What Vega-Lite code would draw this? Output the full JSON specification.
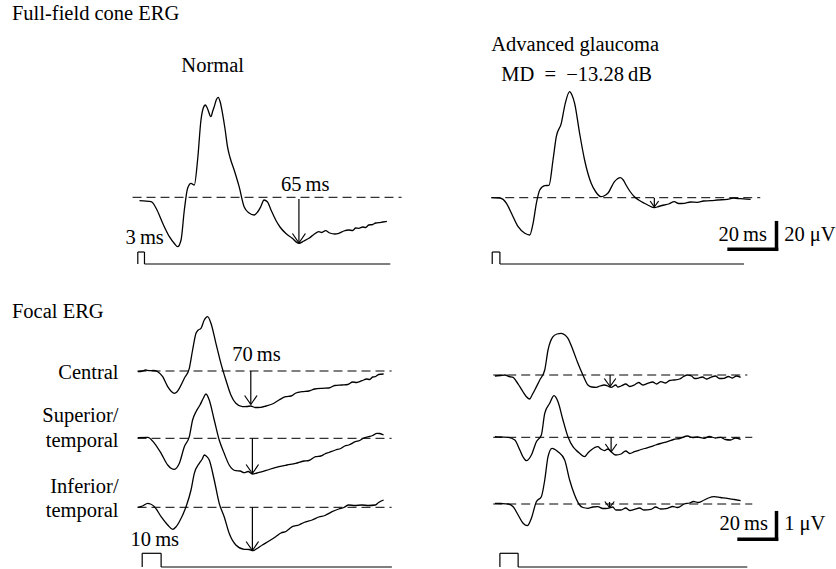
{
  "$schema": "https://vega.github.io/schema/vega-lite/v6.json",
  "width": 836,
  "height": 569,
  "padding": 0,
  "autosize": {"type": "fit", "contains": "padding"},
  "background": "white",
  "config": {"view": {"stroke": null}},
  "datasets": {
    "w": [
      {"id":"nf","x":140,"y":200.7},{"id":"nf","x":151.7,"y":201.7},{"id":"nf","x":156.7,"y":208.3},{"id":"nf","x":163.3,"y":223.3},{"id":"nf","x":170,"y":236.7},{"id":"nf","x":175,"y":243.5},{"id":"nf","x":178.3,"y":246.7},{"id":"nf","x":181.7,"y":240},{"id":"nf","x":185,"y":210},{"id":"nf","x":188.3,"y":188.3},{"id":"nf","x":191.7,"y":183.3},{"id":"nf","x":195,"y":185},{"id":"nf","x":198.3,"y":160},{"id":"nf","x":201.7,"y":120},{"id":"nf","x":204,"y":108},{"id":"nf","x":206,"y":105},{"id":"nf","x":208,"y":108},{"id":"nf","x":211.7,"y":116.7},{"id":"nf","x":213.5,"y":111},{"id":"nf","x":215,"y":106.7},{"id":"nf","x":217,"y":100},{"id":"nf","x":219,"y":97.3},{"id":"nf","x":221,"y":102},{"id":"nf","x":223.3,"y":113.3},{"id":"nf","x":226,"y":130},{"id":"nf","x":228.3,"y":146.7},{"id":"nf","x":231,"y":158},{"id":"nf","x":235,"y":170},{"id":"nf","x":240,"y":186.7},{"id":"nf","x":245,"y":206.7},{"id":"nf","x":250,"y":213},{"id":"nf","x":255,"y":215},{"id":"nf","x":258.5,"y":212},{"id":"nf","x":261.7,"y":206.7},{"id":"nf","x":265,"y":200},{"id":"nf","x":268.3,"y":201.7},{"id":"nf","x":272,"y":210},{"id":"nf","x":276.7,"y":220},{"id":"nf","x":281,"y":227},{"id":"nf","x":286.7,"y":233.3},{"id":"nf","x":293,"y":238},{"id":"nf","x":300,"y":243.3},{"id":"nf","x":305,"y":241},{"id":"nf","x":310,"y":238.3},{"id":"nf","x":315,"y":234.5},{"id":"nf","x":320,"y":231.7},{"id":"nf","x":323,"y":232.5},{"id":"nf","x":326.7,"y":230.7},{"id":"nf","x":331,"y":233},{"id":"nf","x":336,"y":234},{"id":"nf","x":340,"y":233.3},{"id":"nf","x":345,"y":231},{"id":"nf","x":350,"y":230},{"id":"nf","x":354,"y":230.5},{"id":"nf","x":357,"y":228},{"id":"nf","x":360,"y":228.3},{"id":"nf","x":364,"y":227},{"id":"nf","x":367,"y":227.5},{"id":"nf","x":370,"y":225},{"id":"nf","x":374,"y":224.5},{"id":"nf","x":377,"y":223},{"id":"nf","x":380,"y":222.7},{"id":"nf","x":384,"y":222},{"id":"nf","x":388.3,"y":221.3},

      {"id":"gf","x":493.3,"y":197.7},{"id":"gf","x":501.7,"y":198},{"id":"gf","x":508.3,"y":203.3},{"id":"gf","x":513.3,"y":213.3},{"id":"gf","x":520,"y":226.7},{"id":"gf","x":526.7,"y":233.3},{"id":"gf","x":531.7,"y":235},{"id":"gf","x":535,"y":223.3},{"id":"gf","x":538.3,"y":203.3},{"id":"gf","x":541.7,"y":190},{"id":"gf","x":546.7,"y":185.7},{"id":"gf","x":551,"y":185.3},{"id":"gf","x":555,"y":160},{"id":"gf","x":558.3,"y":136.7},{"id":"gf","x":563.3,"y":123.3},{"id":"gf","x":567.3,"y":103.3},{"id":"gf","x":571.7,"y":91.7},{"id":"gf","x":574,"y":95},{"id":"gf","x":576.7,"y":103.3},{"id":"gf","x":581.7,"y":133.3},{"id":"gf","x":586.7,"y":160},{"id":"gf","x":593.3,"y":183.3},{"id":"gf","x":598,"y":192},{"id":"gf","x":603.3,"y":196.7},{"id":"gf","x":606,"y":196},{"id":"gf","x":610,"y":193.3},{"id":"gf","x":616.7,"y":181.7},{"id":"gf","x":622.7,"y":177.7},{"id":"gf","x":625.5,"y":180},{"id":"gf","x":628.3,"y":185},{"id":"gf","x":632,"y":191},{"id":"gf","x":636.7,"y":196.7},{"id":"gf","x":641,"y":200},{"id":"gf","x":646.7,"y":203.3},{"id":"gf","x":651,"y":205.5},{"id":"gf","x":656.7,"y":207.7},{"id":"gf","x":661,"y":206.5},{"id":"gf","x":666.7,"y":205},{"id":"gf","x":671,"y":204},{"id":"gf","x":676.7,"y":201.7},{"id":"gf","x":681,"y":203.5},{"id":"gf","x":686.7,"y":203.3},{"id":"gf","x":693,"y":202},{"id":"gf","x":700,"y":202.3},{"id":"gf","x":706,"y":201},{"id":"gf","x":713.3,"y":200.7},{"id":"gf","x":720,"y":200},{"id":"gf","x":730,"y":199.3},{"id":"gf","x":736,"y":198.2},{"id":"gf","x":743.3,"y":198.7},{"id":"gf","x":753.3,"y":199.3},

      {"id":"nc","x":138.3,"y":371.7},{"id":"nc","x":143,"y":371},{"id":"nc","x":146,"y":370},{"id":"nc","x":150,"y":370.7},{"id":"nc","x":154,"y":370.5},{"id":"nc","x":158.3,"y":371.7},{"id":"nc","x":163.3,"y":376.7},{"id":"nc","x":168.3,"y":386.7},{"id":"nc","x":172,"y":391.5},{"id":"nc","x":175,"y":393.3},{"id":"nc","x":177.5,"y":392},{"id":"nc","x":180,"y":388.3},{"id":"nc","x":185,"y":378.3},{"id":"nc","x":190,"y":368.3},{"id":"nc","x":193.3,"y":350},{"id":"nc","x":196.7,"y":333.3},{"id":"nc","x":199,"y":330},{"id":"nc","x":201.7,"y":328.3},{"id":"nc","x":205,"y":320},{"id":"nc","x":208.3,"y":316.7},{"id":"nc","x":211.7,"y":323.3},{"id":"nc","x":216.7,"y":343.3},{"id":"nc","x":221.7,"y":363.3},{"id":"nc","x":226.7,"y":380},{"id":"nc","x":231.7,"y":395},{"id":"nc","x":236.7,"y":403.3},{"id":"nc","x":243.3,"y":406.7},{"id":"nc","x":248,"y":406.5},{"id":"nc","x":251.7,"y":406},{"id":"nc","x":256,"y":407.5},{"id":"nc","x":261.7,"y":407.3},{"id":"nc","x":267,"y":406},{"id":"nc","x":273.3,"y":404},{"id":"nc","x":280,"y":400},{"id":"nc","x":286.7,"y":396.7},{"id":"nc","x":292,"y":396},{"id":"nc","x":297,"y":393},{"id":"nc","x":303.3,"y":391.7},{"id":"nc","x":310,"y":391},{"id":"nc","x":316,"y":389},{"id":"nc","x":323.3,"y":388.3},{"id":"nc","x":330,"y":388},{"id":"nc","x":336,"y":385.5},{"id":"nc","x":343.3,"y":385},{"id":"nc","x":349,"y":384.5},{"id":"nc","x":354,"y":382},{"id":"nc","x":358,"y":382.5},{"id":"nc","x":363.3,"y":380.7},{"id":"nc","x":368,"y":379},{"id":"nc","x":371,"y":379.5},{"id":"nc","x":374,"y":377},{"id":"nc","x":376.7,"y":376.7},{"id":"nc","x":380,"y":374.5},{"id":"nc","x":385,"y":374},

      {"id":"ns","x":138.3,"y":437.7},{"id":"ns","x":148.3,"y":437.3},{"id":"ns","x":155,"y":443.3},{"id":"ns","x":161.7,"y":453.3},{"id":"ns","x":168.3,"y":465},{"id":"ns","x":172,"y":468.5},{"id":"ns","x":175,"y":469.3},{"id":"ns","x":180,"y":463.3},{"id":"ns","x":185,"y":446.7},{"id":"ns","x":190,"y":436.7},{"id":"ns","x":193.3,"y":420},{"id":"ns","x":196.7,"y":411.7},{"id":"ns","x":200.7,"y":405},{"id":"ns","x":204,"y":398.3},{"id":"ns","x":206.7,"y":394},{"id":"ns","x":210,"y":400},{"id":"ns","x":215,"y":420},{"id":"ns","x":220,"y":440},{"id":"ns","x":225,"y":453.3},{"id":"ns","x":230,"y":465},{"id":"ns","x":236.7,"y":470.7},{"id":"ns","x":241,"y":471},{"id":"ns","x":245,"y":472.7},{"id":"ns","x":249,"y":471.5},{"id":"ns","x":253.3,"y":474},{"id":"ns","x":258,"y":473},{"id":"ns","x":263.3,"y":471.7},{"id":"ns","x":270,"y":469.5},{"id":"ns","x":280,"y":466.7},{"id":"ns","x":288,"y":465},{"id":"ns","x":296.7,"y":463.3},{"id":"ns","x":305,"y":461},{"id":"ns","x":310,"y":460.5},{"id":"ns","x":316.7,"y":456.7},{"id":"ns","x":322,"y":456},{"id":"ns","x":326,"y":454},{"id":"ns","x":330,"y":452.5},{"id":"ns","x":336.7,"y":450},{"id":"ns","x":342,"y":448.5},{"id":"ns","x":346,"y":446},{"id":"ns","x":350,"y":445},{"id":"ns","x":356.7,"y":441.7},{"id":"ns","x":361,"y":440.5},{"id":"ns","x":365,"y":438},{"id":"ns","x":370,"y":436.7},{"id":"ns","x":374,"y":435.5},{"id":"ns","x":378.3,"y":433.3},{"id":"ns","x":381,"y":433.5},{"id":"ns","x":385,"y":435},

      {"id":"ni","x":138.3,"y":507.3},{"id":"ni","x":143,"y":506},{"id":"ni","x":148.3,"y":503.3},{"id":"ni","x":151,"y":504},{"id":"ni","x":155,"y":506.7},{"id":"ni","x":161.7,"y":516.7},{"id":"ni","x":168.3,"y":525},{"id":"ni","x":173.3,"y":529.3},{"id":"ni","x":176.5,"y":527},{"id":"ni","x":180,"y":521.7},{"id":"ni","x":186.7,"y":506.7},{"id":"ni","x":191.7,"y":490},{"id":"ni","x":195,"y":473.3},{"id":"ni","x":200,"y":463.3},{"id":"ni","x":203,"y":459},{"id":"ni","x":205,"y":455},{"id":"ni","x":207.5,"y":456.5},{"id":"ni","x":210,"y":460},{"id":"ni","x":215,"y":480},{"id":"ni","x":220,"y":503.3},{"id":"ni","x":225,"y":516.7},{"id":"ni","x":230,"y":533.3},{"id":"ni","x":236.7,"y":545},{"id":"ni","x":245,"y":549.3},{"id":"ni","x":250,"y":549.5},{"id":"ni","x":254,"y":550.7},{"id":"ni","x":258,"y":548.5},{"id":"ni","x":263.3,"y":545},{"id":"ni","x":270,"y":541},{"id":"ni","x":276.7,"y":536.7},{"id":"ni","x":282,"y":533},{"id":"ni","x":287,"y":531.5},{"id":"ni","x":293.3,"y":526.7},{"id":"ni","x":300,"y":525},{"id":"ni","x":305,"y":522.5},{"id":"ni","x":313.3,"y":520},{"id":"ni","x":320,"y":517},{"id":"ni","x":326,"y":515.5},{"id":"ni","x":333.3,"y":511.7},{"id":"ni","x":340,"y":509},{"id":"ni","x":345,"y":507.5},{"id":"ni","x":350,"y":505},{"id":"ni","x":356,"y":505.5},{"id":"ni","x":363.3,"y":505},{"id":"ni","x":370,"y":505.5},{"id":"ni","x":376.7,"y":505},{"id":"ni","x":380,"y":502.5},{"id":"ni","x":385,"y":500},

      {"id":"gc","x":496.7,"y":376},{"id":"gc","x":502,"y":375.5},{"id":"gc","x":506.7,"y":375},{"id":"gc","x":511,"y":376.5},{"id":"gc","x":515,"y":377.3},{"id":"gc","x":518,"y":381},{"id":"gc","x":521.7,"y":386.7},{"id":"gc","x":525,"y":392},{"id":"gc","x":528.3,"y":396.7},{"id":"gc","x":531.7,"y":399},{"id":"gc","x":534,"y":395},{"id":"gc","x":536.7,"y":390},{"id":"gc","x":541.7,"y":380},{"id":"gc","x":546.7,"y":370},{"id":"gc","x":550,"y":350},{"id":"gc","x":555,"y":336.7},{"id":"gc","x":559,"y":334},{"id":"gc","x":563.3,"y":333.3},{"id":"gc","x":567,"y":335},{"id":"gc","x":570,"y":338.3},{"id":"gc","x":575,"y":350},{"id":"gc","x":580,"y":363.3},{"id":"gc","x":585,"y":375},{"id":"gc","x":590,"y":385},{"id":"gc","x":594,"y":387},{"id":"gc","x":598.3,"y":387.3},{"id":"gc","x":602,"y":386},{"id":"gc","x":606.7,"y":385},{"id":"gc","x":610,"y":386},{"id":"gc","x":613.3,"y":387.3},{"id":"gc","x":618,"y":385},{"id":"gc","x":620,"y":387},{"id":"gc","x":623.3,"y":386},{"id":"gc","x":628,"y":384},{"id":"gc","x":632,"y":386.5},{"id":"gc","x":636.7,"y":385},{"id":"gc","x":641,"y":382.5},{"id":"gc","x":645,"y":385},{"id":"gc","x":650,"y":383.3},{"id":"gc","x":655,"y":382},{"id":"gc","x":659,"y":384},{"id":"gc","x":663.3,"y":381.7},{"id":"gc","x":668,"y":383},{"id":"gc","x":672,"y":380.5},{"id":"gc","x":676.7,"y":380},{"id":"gc","x":682,"y":379},{"id":"gc","x":686,"y":376.5},{"id":"gc","x":690,"y":375},{"id":"gc","x":694,"y":376},{"id":"gc","x":697,"y":378.5},{"id":"gc","x":700,"y":378.3},{"id":"gc","x":705,"y":377},{"id":"gc","x":709,"y":379},{"id":"gc","x":713.3,"y":377.3},{"id":"gc","x":718,"y":376},{"id":"gc","x":722,"y":378.5},{"id":"gc","x":726.7,"y":378.3},{"id":"gc","x":731,"y":376.5},{"id":"gc","x":735,"y":378},{"id":"gc","x":739,"y":376},{"id":"gc","x":743.3,"y":377.3},

      {"id":"gs","x":496.7,"y":436.7},{"id":"gs","x":503,"y":437},{"id":"gs","x":510,"y":437.3},{"id":"gs","x":516.7,"y":440},{"id":"gs","x":521.7,"y":450},{"id":"gs","x":525,"y":457},{"id":"gs","x":528.3,"y":460.7},{"id":"gs","x":533.3,"y":455},{"id":"gs","x":538.3,"y":441.7},{"id":"gs","x":543.3,"y":435},{"id":"gs","x":546.7,"y":413.3},{"id":"gs","x":551.7,"y":403.3},{"id":"gs","x":556,"y":395.7},{"id":"gs","x":560,"y":401.7},{"id":"gs","x":565,"y":420},{"id":"gs","x":570,"y":436.7},{"id":"gs","x":575,"y":446.7},{"id":"gs","x":578,"y":450},{"id":"gs","x":581.7,"y":453.3},{"id":"gs","x":586.7,"y":456.7},{"id":"gs","x":590,"y":453},{"id":"gs","x":593.3,"y":450},{"id":"gs","x":600,"y":446.7},{"id":"gs","x":603,"y":449},{"id":"gs","x":606.7,"y":450.7},{"id":"gs","x":610,"y":449},{"id":"gs","x":613.3,"y":451.7},{"id":"gs","x":618,"y":455},{"id":"gs","x":623.3,"y":454},{"id":"gs","x":628,"y":451},{"id":"gs","x":632,"y":453.5},{"id":"gs","x":636.7,"y":451.7},{"id":"gs","x":642,"y":450},{"id":"gs","x":647,"y":448.5},{"id":"gs","x":653.3,"y":446.7},{"id":"gs","x":658,"y":445},{"id":"gs","x":663,"y":443.5},{"id":"gs","x":670,"y":441.7},{"id":"gs","x":676,"y":439.5},{"id":"gs","x":682,"y":438.5},{"id":"gs","x":690,"y":436},{"id":"gs","x":695,"y":437.5},{"id":"gs","x":700,"y":437},{"id":"gs","x":706.7,"y":438.3},{"id":"gs","x":712,"y":436.5},{"id":"gs","x":718,"y":438},{"id":"gs","x":723.3,"y":437.3},{"id":"gs","x":728,"y":439.5},{"id":"gs","x":733.3,"y":440},{"id":"gs","x":738,"y":438},{"id":"gs","x":743.3,"y":439.3},

      {"id":"gi","x":496.7,"y":503.3},{"id":"gi","x":503,"y":503.5},{"id":"gi","x":510,"y":504},{"id":"gi","x":515,"y":506.7},{"id":"gi","x":520,"y":515},{"id":"gi","x":525,"y":523.3},{"id":"gi","x":529.3,"y":525.7},{"id":"gi","x":533.3,"y":518.3},{"id":"gi","x":538.3,"y":501.7},{"id":"gi","x":543.3,"y":496.7},{"id":"gi","x":546.7,"y":480},{"id":"gi","x":550,"y":456.7},{"id":"gi","x":554,"y":448.3},{"id":"gi","x":557,"y":449.5},{"id":"gi","x":560,"y":451.7},{"id":"gi","x":566.7,"y":460},{"id":"gi","x":571.7,"y":480},{"id":"gi","x":576.7,"y":495},{"id":"gi","x":581.7,"y":505},{"id":"gi","x":585,"y":507.5},{"id":"gi","x":590,"y":508.3},{"id":"gi","x":595,"y":507},{"id":"gi","x":600,"y":506.7},{"id":"gi","x":605,"y":508.5},{"id":"gi","x":610,"y":508.3},{"id":"gi","x":615,"y":507},{"id":"gi","x":618,"y":510},{"id":"gi","x":623.3,"y":510},{"id":"gi","x":628,"y":508},{"id":"gi","x":632,"y":510.5},{"id":"gi","x":636.7,"y":509.3},{"id":"gi","x":642,"y":508},{"id":"gi","x":646,"y":510},{"id":"gi","x":653.3,"y":509.3},{"id":"gi","x":658,"y":507},{"id":"gi","x":663,"y":509},{"id":"gi","x":670,"y":508.3},{"id":"gi","x":675,"y":506.5},{"id":"gi","x":680,"y":507.5},{"id":"gi","x":686.7,"y":504},{"id":"gi","x":692,"y":503},{"id":"gi","x":696,"y":501.5},{"id":"gi","x":701,"y":502.5},{"id":"gi","x":706.7,"y":500},{"id":"gi","x":711,"y":498},{"id":"gi","x":716.7,"y":496.7},{"id":"gi","x":723,"y":497.5},{"id":"gi","x":730,"y":498.3},{"id":"gi","x":737,"y":499.5},{"id":"gi","x":743.3,"y":500.7}
    ],
    "seg": [
      {"x":138.3,"y":264,"x2":138.3,"y2":252},{"x":138.3,"y":252,"x2":145,"y2":252},{"x":145,"y":252,"x2":145,"y2":264},{"x":145,"y":264,"x2":391.7,"y2":264},
      {"x":494,"y":264,"x2":494,"y2":252},{"x":494,"y":252,"x2":501.7,"y2":252},{"x":501.7,"y":252,"x2":501.7,"y2":264},{"x":501.7,"y":264,"x2":746.7,"y2":264},
      {"x":142.7,"y":567,"x2":142.7,"y2":553.3},{"x":142.7,"y":553.3,"x2":161.7,"y2":553.3},{"x":161.7,"y":553.3,"x2":161.7,"y2":567},{"x":161.7,"y":567,"x2":393.3,"y2":567},
      {"x":501.7,"y":567,"x2":501.7,"y2":553.3},{"x":501.7,"y":553.3,"x2":520,"y2":553.3},{"x":520,"y":553.3,"x2":520,"y2":567},{"x":520,"y":567,"x2":750,"y2":567},
      {"x":300,"y":199,"x2":300,"y2":243},{"x":293.5,"y":233.5,"x2":300,"y2":243},{"x":306.5,"y":233.5,"x2":300,"y2":243},
      {"x":656.7,"y":198,"x2":656.7,"y2":207},{"x":652.5,"y":201,"x2":656.7,"y2":207},{"x":661,"y":201,"x2":656.7,"y2":207},
      {"x":251.7,"y":371,"x2":251.7,"y2":404.5},{"x":245.5,"y":395.5,"x2":251.7,"y2":404.5},{"x":258,"y":395.5,"x2":251.7,"y2":404.5},
      {"x":253.3,"y":438.3,"x2":253.3,"y2":473.5},{"x":247,"y":464.5,"x2":253.3,"y2":473.5},{"x":259.5,"y":464.5,"x2":253.3,"y2":473.5},
      {"x":253.3,"y":507.3,"x2":253.3,"y2":550.5},{"x":247,"y":541.5,"x2":253.3,"y2":550.5},{"x":259.5,"y":541.5,"x2":253.3,"y2":550.5},
      {"x":612.3,"y":375,"x2":612.3,"y2":386.5},{"x":606.5,"y":378.5,"x2":612.3,"y2":386.5},{"x":618,"y":378.5,"x2":612.3,"y2":386.5},
      {"x":613.3,"y":437.3,"x2":613.3,"y2":452},{"x":607.5,"y":444,"x2":613.3,"y2":452},{"x":619,"y":444,"x2":613.3,"y2":452},
      {"x":611.7,"y":502,"x2":611.7,"y2":507.5},{"x":607,"y":501.5,"x2":611.7,"y2":507.5},{"x":616.5,"y":501.5,"x2":611.7,"y2":507.5}
    ],
    "dash": [
      {"x":133,"x2":403,"y":197.3},{"x":493,"x2":763,"y":197.7},
      {"x":138,"x2":393,"y":371},{"x":138,"x2":393,"y":438.3},{"x":138,"x2":393,"y":507.3},
      {"x":495,"x2":750,"y":375},{"x":495,"x2":755,"y":437.3},{"x":495,"x2":755,"y":504}
    ],
    "bar": [
      {"x":731.7,"y":249.3,"x2":779.3,"y2":249.3},{"x":779.3,"y":222.7,"x2":779.3,"y2":249.3},
      {"x":741.7,"y":539.3,"x2":779.3,"y2":539.3},{"x":779.3,"y":512.7,"x2":779.3,"y2":539.3}
    ],
    "tl": [
      {"x":12,"y":20,"t":"Full-field cone ERG"},
      {"x":182,"y":72,"t":"Normal"},
      {"x":493,"y":51,"t":"Advanced glaucoma"},
      {"x":503,"y":81,"t":"MD\u2002=\u2002−13.28\u2009dB"},
      {"x":12,"y":318,"t":"Focal ERG"},
      {"x":126,"y":244,"t":"3\u2009ms"},
      {"x":282,"y":191,"t":"65\u2009ms"},
      {"x":233,"y":361,"t":"70\u2009ms"},
      {"x":131,"y":546,"t":"10\u2009ms"},
      {"x":721,"y":241,"t":"20\u2009ms"},
      {"x":787,"y":241,"t":"20 μV"},
      {"x":722,"y":530,"t":"20\u2009ms"},
      {"x":787,"y":530,"t":"1 μV"}
    ],
    "tr": [
      {"x":119,"y":379,"t":"Central"},
      {"x":119,"y":422,"t":"Superior/"},
      {"x":119,"y":447,"t":"temporal"},
      {"x":119,"y":493,"t":"Inferior/"},
      {"x":119,"y":517,"t":"temporal"}
    ]
  },
  "layer": [
    {
      "data": {"name": "dash"},
      "mark": {"type": "rule", "strokeDash": [9, 5], "strokeWidth": 1, "color": "black"},
      "encoding": {
        "x": {"field": "x", "type": "quantitative", "scale": {"domain": [0, 836], "nice": false, "zero": false}, "axis": null},
        "x2": {"field": "x2"},
        "y": {"field": "y", "type": "quantitative", "scale": {"domain": [0, 569], "nice": false, "zero": false, "reverse": true}, "axis": null}
      }
    },
    {
      "data": {"name": "w"},
      "mark": {"type": "line", "strokeWidth": 1.3, "color": "black", "interpolate": "monotone"},
      "encoding": {
        "x": {"field": "x", "type": "quantitative"},
        "y": {"field": "y", "type": "quantitative"},
        "detail": {"field": "id"}
      }
    },
    {
      "data": {"name": "seg"},
      "mark": {"type": "rule", "strokeWidth": 1.2, "color": "black"},
      "encoding": {
        "x": {"field": "x", "type": "quantitative"},
        "x2": {"field": "x2"},
        "y": {"field": "y", "type": "quantitative"},
        "y2": {"field": "y2"}
      }
    },
    {
      "data": {"name": "bar"},
      "mark": {"type": "rule", "strokeWidth": 3.5, "color": "black", "strokeCap": "square"},
      "encoding": {
        "x": {"field": "x", "type": "quantitative"},
        "x2": {"field": "x2"},
        "y": {"field": "y", "type": "quantitative"},
        "y2": {"field": "y2"}
      }
    },
    {
      "data": {"name": "tl"},
      "mark": {"type": "text", "align": "left", "baseline": "alphabetic", "font": "Liberation Serif", "fontSize": 20.5, "color": "black"},
      "encoding": {
        "x": {"field": "x", "type": "quantitative"},
        "y": {"field": "y", "type": "quantitative"},
        "text": {"field": "t"}
      }
    },
    {
      "data": {"name": "tr"},
      "mark": {"type": "text", "align": "right", "baseline": "alphabetic", "font": "Liberation Serif", "fontSize": 20.5, "color": "black"},
      "encoding": {
        "x": {"field": "x", "type": "quantitative"},
        "y": {"field": "y", "type": "quantitative"},
        "text": {"field": "t"}
      }
    }
  ]
}
